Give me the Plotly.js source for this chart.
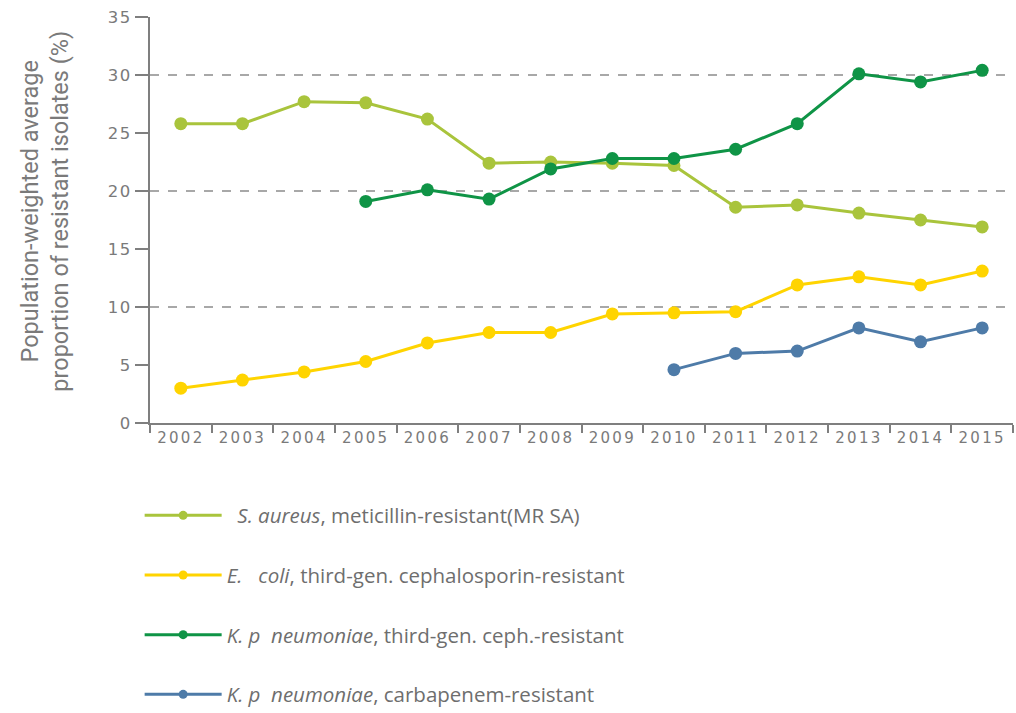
<!DOCTYPE html>
<html>
<head>
<meta charset="utf-8">
<script src="https://cdn.plot.ly/plotly-3.0.1.min.js"></script>
<style>
body{margin:0;padding:0;background:#fff;}
#chart{width:1016px;height:713px;}
.xtick text{letter-spacing:2.3px;}
.ytick text{letter-spacing:1.5px;}
</style>
</head>
<body>
<div id="chart"></div>
<script>
const years = ["2002","2003","2004","2005","2006","2007","2008","2009","2010","2011","2012","2013","2014","2015"];
const mrsa = [25.8,25.8,27.7,27.6,26.2,22.4,22.5,22.4,22.2,18.6,18.8,18.1,17.5,16.9];
const ecoli = [3.0,3.7,4.4,5.3,6.9,7.8,7.8,9.4,9.5,9.6,11.9,12.6,11.9,13.1];
const kpYears = ["2005","2006","2007","2008","2009","2010","2011","2012","2013","2014","2015"];
const kpCeph = [19.1,20.1,19.3,21.9,22.8,22.8,23.6,25.8,30.1,29.4,30.4];
const kpCarbYears = ["2010","2011","2012","2013","2014","2015"];
const kpCarb = [4.6,6.0,6.2,8.2,7.0,8.2];
const names = [
  "&nbsp;&nbsp;<i>S. aureus</i>, meticillin-resistant(MR SA)",
  "<i>E.&nbsp;&nbsp;&nbsp;coli</i>, third-gen. cephalosporin-resistant",
  "<i>K. p&nbsp;&nbsp;neumoniae</i>, third-gen. ceph.-resistant",
  "<i>K. p&nbsp;&nbsp;neumoniae</i>, carbapenem-resistant"
];
const colors = ["#a9c43c","#ffd400","#0f9446","#4e7ba8"];
const series = [[years,mrsa],[years,ecoli],[kpYears,kpCeph],[kpCarbYears,kpCarb]];

const data = [];
series.forEach(function(s,i){
  data.push({x:s[0], y:s[1], type:"scatter", mode:"lines+markers", name:names[i],
    showlegend:false,
    line:{color:colors[i], width:3}, marker:{color:colors[i], size:13},
    hoverinfo:"x+y"});
});
// legend entries (smaller symbols, as in the reference legend)
series.forEach(function(s,i){
  data.push({x:[null], y:[null], type:"scatter", mode:"lines+markers", name:names[i],
    legendgroup:"g"+i, showlegend:true,
    line:{color:colors[i], width:3}, marker:{color:colors[i], size:9},
    hoverinfo:"skip"});
});
data.push({x:years, y:[null], yaxis:"y2", showlegend:false, hoverinfo:"skip", type:"scatter"});

const layout = {
  width:1016, height:713,
  margin:{l:150, r:3, t:17, b:290},
  paper_bgcolor:"#fff", plot_bgcolor:"#fff",
  showlegend:true,
  legend:{xref:"paper", yref:"container", x:-0.012, xanchor:"left", y:0.305, yanchor:"top", orientation:"v",
    tracegroupgap:30, itemwidth:77,
    font:{family:"Open Sans, DejaVu Sans, sans-serif", size:20.5, color:"#6e6e6e"}},
  xaxis:{type:"category", categoryorder:"array", categoryarray:years,
    range:[-0.5,13.5], showline:true, linecolor:"#7f7f7f", linewidth:2,
    ticks:"outside", tickson:"boundaries", ticklen:8, tickwidth:2, tickcolor:"#7f7f7f",
    showgrid:false, zeroline:false, tickangle:0,
    tickfont:{family:"DejaVu Sans, sans-serif", size:15, color:"#7a7a7a"}},
  yaxis:{range:[0,35], dtick:5, tick0:0, showline:true, linecolor:"#7f7f7f", linewidth:2,
    ticks:"outside", ticklen:13, tickwidth:2, tickcolor:"#7f7f7f",
    showgrid:false, zeroline:false,
    tickfont:{family:"DejaVu Sans, sans-serif", size:16.5, color:"#7a7a7a"},
    title:{text:"&nbsp;&nbsp;&nbsp;Population-weighted average<br>&nbsp;&nbsp;&nbsp;proportion of resistant isolates (%)",
      font:{family:"Roboto, sans-serif", size:23.5, color:"#7a7a7a"},
      standoff:32}},
  yaxis2:{overlaying:"y", range:[0,35], dtick:10, tick0:0, showgrid:true,
    gridcolor:"#a8a8a8", griddash:"dash", gridwidth:1.5, showticklabels:false,
    zeroline:false, showline:false, ticks:""}
};
Plotly.newPlot("chart", data, layout, {displayModeBar:false, staticPlot:true});
</script>
</body>
</html>
